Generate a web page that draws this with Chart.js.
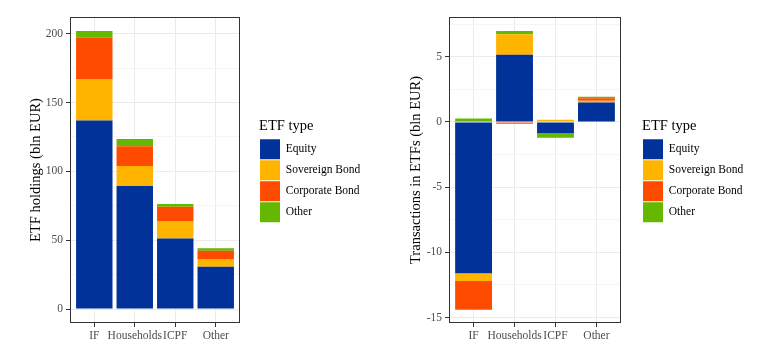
<!DOCTYPE html>
<html><head><meta charset="utf-8">
<script src="https://cdn.jsdelivr.net/npm/chart.js@4/dist/chart.umd.min.js"></script>
<style>
html,body{margin:0;padding:0;background:#fff;}
#wrap{position:relative;width:784px;height:355px;overflow:hidden;}
canvas{position:absolute;top:0;}
#c1{left:0}
#c2{left:392px}
</style></head><body>
<div id="wrap"><canvas id="c1" width="392" height="355"></canvas><canvas id="c2" width="392" height="355"></canvas></div>
<script>
const categories = ['IF', 'Households', 'ICPF', 'Other'];
const seriesNames = ['Equity', 'Sovereign Bond', 'Corporate Bond', 'Other'];
const holdingsEquity = [137, 89.4, 51.2, 30.8];
const holdingsSovereign = [30, 14.5, 12.4, 5.6];
const holdingsCorporate = [30, 14.3, 10.7, 6.0];
const holdingsOther = [5, 5.3, 2, 1.8];
const transEquity = [-11.6, 5.15, -0.87, 1.5];
const transSovereign = [-0.6, 1.58, 0.17, 0.12];
const transCorporate = [-2.2, -0.13, 0, 0.2];
const transOther = [0.27, 0.25, -0.35, 0.12];
const holdingsTicks = [0, 50, 100, 150, 200];
const transTicks = [-15, -10, -5, 0, 5];
const seriesColors = ['#003299', '#FFB400', '#FF4B00', '#65B800'];

const FONT = "'Liberation Serif', 'Times New Roman', serif";
Chart.defaults.font.family = FONT;

const panelBorder = {
  id: 'panelBorder',
  afterDraw(chart) {
    const {ctx, chartArea: a} = chart;
    ctx.save();
    ctx.strokeStyle = '#333333';
    ctx.lineWidth = 1;
    ctx.strokeRect(Math.round(a.left) + 0.5, Math.round(a.top) + 0.5,
      Math.round(a.right - a.left) - 1, Math.round(a.bottom - a.top) - 1);
    ctx.restore();
  }
};

function toPoints(values) { return values.map((v, i) => ({x: i + 1, y: v})); }

function makeChart(id, seriesList, yMin, yMax, majors, yTitle, cfg) {
  const step = majors[1] - majors[0];
  const all = [];
  for (let v = majors[0] - step / 2; v <= yMax; v += step / 2) {
    if (v >= yMin) all.push(Math.round(v * 100) / 100);
  }
  const majorSet = new Set(majors);
  const isMajor = v => majorSet.has(v);
  const datasets = seriesList.map((vals, k) => ({
    label: seriesNames[k],
    data: toPoints(vals),
    backgroundColor: seriesColors[k],
    borderWidth: 0,
    xAxisID: 'x',
    yAxisID: 'y',
    categoryPercentage: 0.9,
    barPercentage: 1.0
  }));
  return new Chart(document.getElementById(id), {
    type: 'bar',
    data: {datasets},
    options: {
      responsive: false,
      animation: false,
      layout: {padding: {top: 17, bottom: 0, left: 0, right: cfg.padR}},
      plugins: {
        tooltip: {enabled: false},
        legend: {
          position: 'right',
          fullSize: false,
          align: 'center',
          maxWidth: 220,
          title: {display: true, text: 'ETF type', position: 'start', color: '#000',
                  font: {family: FONT, size: 14.5}, padding: {top: 2, bottom: 2}},
          labels: {boxWidth: 20, boxHeight: 20, padding: 1, color: '#000',
                   font: {family: FONT, size: 11.5}}
        }
      },
      scales: {
        x: {
          type: 'linear', position: 'bottom', stacked: true, offset: false,
          min: 0.4, max: 4.6,
          afterBuildTicks: s => { s.ticks = categories.map((c, i) => ({value: i + 1})); },
          afterFit: s => { s.height = 32; },
          ticks: {autoSkip: false, maxRotation: 0, padding: 2, color: '#4D4D4D',
                  font: {family: FONT, size: 11.5},
                  callback: v => categories[Math.round(v) - 1]},
          grid: {offset: false, color: '#EBEBEB', lineWidth: 1, tickLength: 4, tickColor: '#333333', drawTicks: true},
          border: {display: false}
        },
        y: {
          type: 'linear', position: 'left', stacked: true,
          min: yMin, max: yMax,
          afterBuildTicks: s => { s.ticks = all.map(v => ({value: v})); },
          afterFit: s => { s.width = cfg.yW; },
          ticks: {autoSkip: false, padding: 3, color: '#4D4D4D',
                  font: {family: FONT, size: 11.5},
                  callback: v => isMajor(v) ? String(v) : ''},
          grid: {
            color: c => (c.tick && isMajor(c.tick.value)) ? '#EBEBEB' : '#F5F5F5',
            tickColor: c => (c.tick && isMajor(c.tick.value)) ? '#333333' : 'rgba(0,0,0,0)',
            lineWidth: 1, tickLength: 4, drawTicks: true
          },
          border: {display: false},
          title: {display: true, text: yTitle, color: '#000',
                  font: {family: FONT, size: 14.5}, padding: {top: cfg.titlePad, bottom: 0}}
        },
        gap: {
          type: 'linear', position: 'right', axis: 'y', display: true,
          afterFit: s => { s.width = cfg.gapW; },
          ticks: {display: false},
          grid: {display: false, drawTicks: false},
          border: {display: false}
        }
      }
    },
    plugins: [panelBorder]
  });
}

makeChart('c1', [holdingsEquity, holdingsSovereign, holdingsCorporate, holdingsOther],
  -10.1, 212.1, holdingsTicks, 'ETF holdings (bln EUR)',
  {padR: 21.8, yW: 70, gapW: 19, titlePad: 27.3});
makeChart('c2', [transEquity, transSovereign, transCorporate, transOther],
  -15.42, 8.05, transTicks, 'Transactions in ETFs (bln EUR)',
  {padR: 30.8, yW: 57, gapW: 21, titlePad: 15.3});
</script>
</body></html>
